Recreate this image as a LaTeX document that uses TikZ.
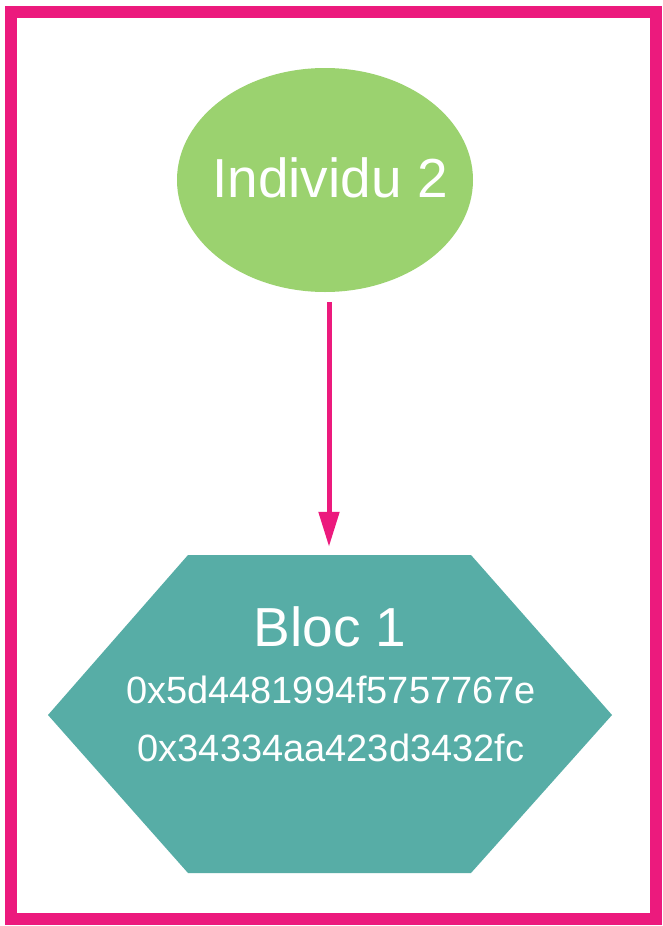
\documentclass[tikz,border=0pt]{standalone}
\usepackage{fontspec}
\setmainfont{Liberation Sans}
\usetikzlibrary{shapes.geometric,arrows.meta}
\definecolor{framepink}{HTML}{EC1A7D}
\definecolor{indgreen}{HTML}{9BD26F}
\definecolor{blocteal}{HTML}{57ADA6}
\tikzset{
  individu/.style={ellipse, fill=indgreen, minimum width=296pt, minimum height=224pt, inner sep=0pt},
  bigtext/.style={text=white, font=\fontsize{55}{60}\selectfont, inner sep=0pt, anchor=base},
  hashtext/.style={text=white, font=\fontsize{38}{44}\selectfont, inner sep=0pt, anchor=base},
  link/.style={framepink, line width=5pt, -{Triangle[length=35pt,width=20pt]}},
  blocarea/.style={rectangle, minimum width=564pt, minimum height=318pt, inner sep=0pt}
}
\begin{document}
\begin{tikzpicture}[x=1pt,y=-1pt]
\useasboundingbox (0,0) rectangle (663,926);
\fill[white] (0,0) rectangle (663,926);
\draw[framepink, line width=12pt] (11,12) rectangle (656,919);
% ellipse
\node[individu] (ind) at (325,180) {};
\node[bigtext] (indlabel) at (330,197) {Individu 2};
% hexagon
\node[blocarea] (bloc) at (330,714) {};
\fill[blocteal] (188,555) -- (471,555) -- (612,715) -- (471,873) -- (188,873) -- (48,715) -- cycle;
\node[bigtext] (bloclabel) at (330,646) {Bloc 1};
\node[hashtext] (hash1) at (331,703) {0x5d4481994f5757767e};
\node[hashtext] (hash2) at (331,761) {0x34334aa423d3432fc};
% arrow
\draw[link, shorten <=10pt, shorten >=8pt] (ind.south -| 329,0) -- (bloc.north -| 329,0);
\end{tikzpicture}
\end{document}
